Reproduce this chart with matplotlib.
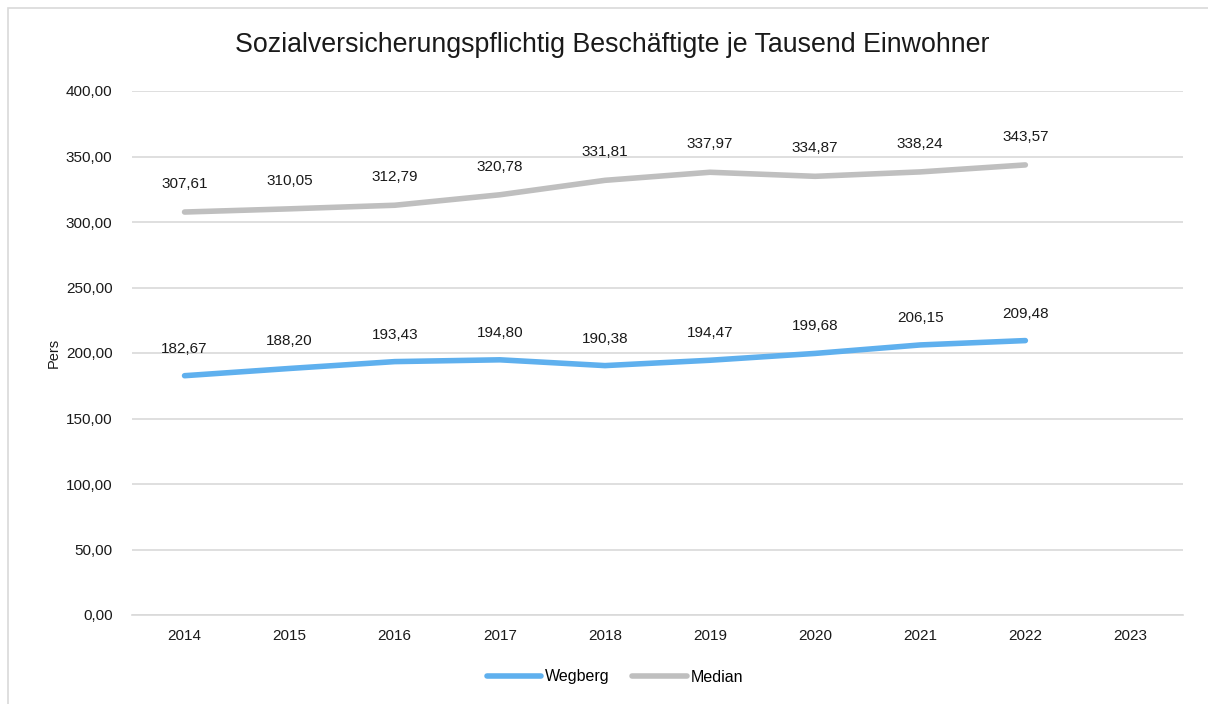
import matplotlib.pyplot as plt
from matplotlib.patches import Rectangle

plt.rcParams['font.family'] = ['Liberation Sans', 'DejaVu Sans']

years = ['2014', '2015', '2016', '2017', '2018', '2019', '2020', '2021', '2022', '2023']
wegberg = [182.67, 188.20, 193.43, 194.80, 190.38, 194.47, 199.68, 206.15, 209.48]
median = [307.61, 310.05, 312.79, 320.78, 331.81, 337.97, 334.87, 338.24, 343.57]
yticks = [0, 50, 100, 150, 200, 250, 300, 350, 400]

def fmt(v):
    return f'{v:.2f}'.replace('.', ',')

fig = plt.figure(figsize=(12.08, 7.04), dpi=100)
ax = fig.add_axes([132 / 1208, 1 - 615 / 704, 1051 / 1208, 524 / 704])

# light frame around the whole chart
fig.patches.append(Rectangle((8 / 1208, -0.01), 1.02, 1 - 8 / 704 + 0.01,
                             transform=fig.transFigure, fill=False,
                             edgecolor='#d9d9d9', linewidth=1.2))

x = list(range(len(wegberg)))
ax.plot(x, wegberg, color='#5fb0ee', linewidth=4, solid_capstyle='round', label='Wegberg')
ax.plot(x, median, color='#bfbfbf', linewidth=4, solid_capstyle='round', label='Median')

for i, v in enumerate(wegberg):
    ax.annotate(fmt(v), (i, v), xytext=(0, 27), textcoords='offset pixels',
                ha='center', va='center', fontsize=11, color='#1a1a1a')
for i, v in enumerate(median):
    ax.annotate(fmt(v), (i, v), xytext=(0, 28), textcoords='offset pixels',
                ha='center', va='center', fontsize=11, color='#1a1a1a')

ax.set_xlim(-0.5, len(years) - 0.5)
ax.set_ylim(0, 400)
ax.set_xticks(range(len(years)))
ax.set_xticklabels(years)
ax.set_yticks(yticks)
ax.set_yticklabels([fmt(t) for t in yticks])
ax.tick_params(length=0, labelsize=11, colors='#1a1a1a', pad=10)
ax.tick_params(axis='y', pad=14)
ax.grid(axis='y', color='#d9d9d9', linewidth=1.2)
ax.set_axisbelow(True)
for s in ['top', 'right', 'left']:
    ax.spines[s].set_visible(False)
ax.spines['bottom'].set_color('#d9d9d9')
ax.spines['bottom'].set_linewidth(1.2)

ax.set_ylabel('Pers', fontsize=10.5, color='#1a1a1a', labelpad=4)

fig.text(612 / 1208, 1 - 45 / 704, 'Sozialversicherungspflichtig Beschäftigte je Tausend Einwohner',
         ha='center', va='center', fontsize=19.3, color='#1a1a1a')

fig.legend(handles=ax.get_lines(), loc='center', bbox_to_anchor=(615 / 1208, 1 - 677 / 704),
           ncol=2, frameon=False, fontsize=11.5, handlelength=3.4, handletextpad=0.25,
           columnspacing=1.4)

fig.savefig('out.png', dpi=100)
